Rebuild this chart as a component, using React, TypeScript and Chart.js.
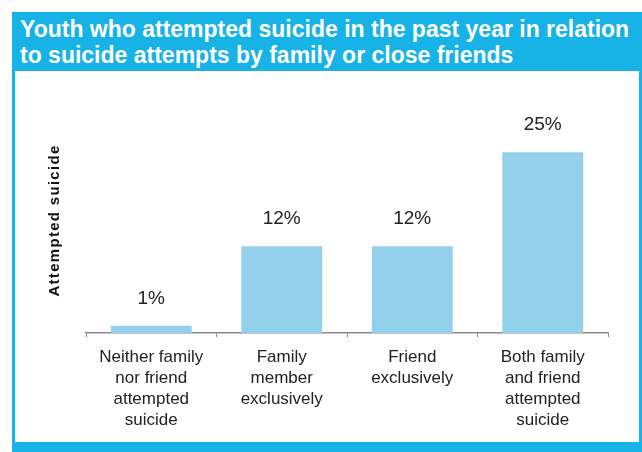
import React, { useEffect, useRef } from "react";
import { Chart, registerables } from "chart.js";

Chart.register(...registerables);

const titleLines = [
  "Youth who attempted suicide in the past year in relation",
  "to suicide attempts by family or close friends",
];
const categories: string[][] = [
  ["Neither family", "nor friend", "attempted", "suicide"],
  ["Family", "member", "exclusively"],
  ["Friend", "exclusively"],
  ["Both family", "and friend", "attempted", "suicide"],
];
const values = [1, 12, 12, 25];
const valueLabels = ["1%", "12%", "12%", "25%"];
const yTitle = "Attempted suicide";

const FONT = '"Liberation Sans", Arial, Helvetica, sans-serif';
const CYAN = "#17B2E6";
const BAR = "#93D0EB";

const valueLabelPlugin = {
  id: "valueLabels",
  afterDatasetsDraw(chart: any) {
    const ctx = chart.ctx;
    const meta = chart.getDatasetMeta(0);
    ctx.save();
    ctx.font = `19px ${FONT}`;
    ctx.fillStyle = "#222";
    ctx.textAlign = "center";
    ctx.textBaseline = "middle";
    meta.data.forEach((el: any, i: number) => {
      ctx.fillText(valueLabels[i], el.x, el.y - 27);
    });
    ctx.restore();
  },
};

const yTitlePlugin = {
  id: "yTitle",
  afterDraw(chart: any) {
    const ctx = chart.ctx;
    const area = chart.chartArea;
    ctx.save();
    ctx.translate(44, (area.top + area.bottom) / 2 - 4);
    ctx.rotate(-Math.PI / 2);
    ctx.font = `bold 15px ${FONT}`;
    (ctx as any).letterSpacing = "1.3px";
    ctx.fillStyle = "#111";
    ctx.textAlign = "center";
    ctx.textBaseline = "alphabetic";
    ctx.fillText(yTitle, 0, 0);
    ctx.restore();
  },
};

export default function App() {
  const ref = useRef<HTMLCanvasElement>(null);
  useEffect(() => {
    if (!ref.current) return;
    const chart = new Chart(ref.current, {
      type: "bar",
      data: {
        labels: categories,
        datasets: [
          {
            data: values,
            backgroundColor: BAR,
            borderWidth: 0,
            barPercentage: 0.62,
            categoryPercentage: 1,
          },
        ],
      },
      options: {
        animation: false,
        responsive: false,
        devicePixelRatio: 1,
        layout: { padding: { left: 71, right: 31, top: 45, bottom: 1 } },
        plugins: {
          legend: { display: false },
          tooltip: { enabled: false },
        },
        scales: {
          x: {
            grid: {
              offset: true,
              drawOnChartArea: false,
              drawTicks: true,
              tickLength: 4,
              color: "#8a8a8a",
            },
            border: { display: true, color: "#8a8a8a", width: 1.5 },
            ticks: {
              color: "#222",
              font: { family: FONT, size: 17, lineHeight: 21 / 17 },
              padding: 10,
              maxRotation: 0,
              autoSkip: false,
            },
          },
          y: {
            display: false,
            min: 0,
            max: 30,
          },
        },
      },
      plugins: [valueLabelPlugin, yTitlePlugin],
    });
    return () => chart.destroy();
  }, []);

  return (
    <div
      style={{
        position: "fixed",
        left: 0,
        top: 0,
        width: 642,
        height: 452,
        background: "#fff",
        overflow: "hidden",
      }}
    >
      <div
        style={{
          position: "absolute",
          left: 12,
          top: 12,
          width: 630,
          height: 440,
          background: CYAN,
        }}
      />
      <div
        style={{
          position: "absolute",
          left: 12,
          top: 12,
          width: 630,
          height: 59,
          boxSizing: "border-box",
          padding: "4px 0 0 8px",
          color: "#fff",
          fontFamily: FONT,
          fontWeight: "bold",
          fontSize: 23,
          lineHeight: "26px",
          whiteSpace: "nowrap",
        }}
      >
        {titleLines.map((t, i) => (
          <div key={i}>{t}</div>
        ))}
      </div>
      <div
        style={{
          position: "absolute",
          left: 15,
          top: 71,
          width: 624,
          height: 371,
          background: "#fff",
        }}
      >
        <canvas ref={ref} width={624} height={371} style={{ display: "block" }} />
      </div>
    </div>
  );
}
